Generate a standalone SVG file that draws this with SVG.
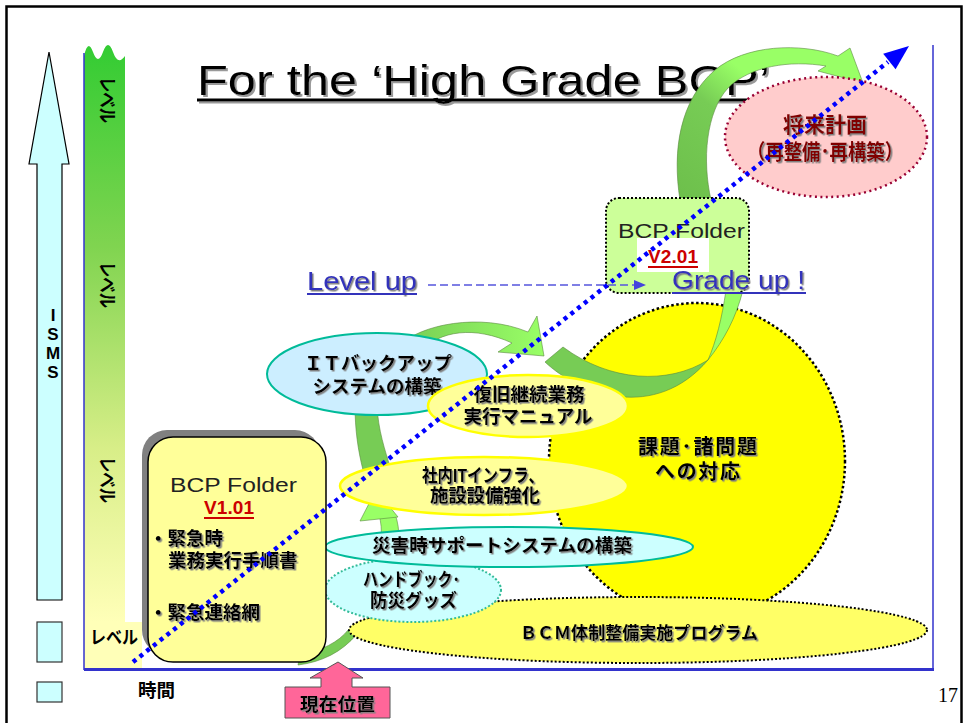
<svg xmlns="http://www.w3.org/2000/svg" width="963" height="723" viewBox="0 0 963 723">
<defs>
<linearGradient id="barG" x1="0" y1="0" x2="0" y2="1">
<stop offset="0" stop-color="#33CC33"/>
<stop offset="0.35" stop-color="#80D450"/>
<stop offset="0.7" stop-color="#D8EE88"/>
<stop offset="1" stop-color="#FFFFB8"/>
</linearGradient>
<linearGradient id="arrG" x1="0" y1="1" x2="1" y2="0">
<stop offset="0" stop-color="#6DBF4B"/>
<stop offset="0.4" stop-color="#77CC55"/>
<stop offset="0.6" stop-color="#99FF66"/>
</linearGradient>
<linearGradient id="arrH" x1="0" y1="0" x2="1" y2="0">
<stop offset="0" stop-color="#77CC55"/>
<stop offset="1" stop-color="#99FF66"/>
</linearGradient>
<filter id="sh" x="-10%" y="-20%" width="120%" height="150%">
<feDropShadow dx="1.5" dy="1.5" stdDeviation="0.3" flood-color="#808080"/>
</filter>
<filter id="tsh" x="-5%" y="-20%" width="110%" height="150%">
<feDropShadow dx="2" dy="2" stdDeviation="0.4" flood-color="#999"/>
</filter>
</defs>
<style>
.jp{font-family:"Liberation Sans","Noto Sans CJK JP",sans-serif;font-weight:bold;fill:#000;filter:url(#sh)}
.jpn{font-family:"Liberation Sans","Noto Sans CJK JP",sans-serif;font-weight:bold;fill:#000}
.ga{stroke:#5a8a40;stroke-width:0.6}
.dk{fill:#77CC55}
.lt{fill:#99FF66}
.axis{stroke:#3333CC;fill:none}
.yel{fill:#FFFF99;stroke:#FFFF00;stroke-width:2.5}
.tl{fill:#CCFFFF;stroke:#00BB99;stroke-width:2}
.fold{font-family:"Liberation Sans","DejaVu Sans",sans-serif;font-size:20px;fill:#222}
.ver{font-family:"Liberation Sans",sans-serif;font-size:19px;font-weight:bold;fill:#CC0000}
.lnk{font-family:"Liberation Sans",sans-serif;font-size:25px;fill:#3333BB;filter:url(#sh)}
</style>

<rect width="963" height="723" fill="#fff"/>
<rect x="6.5" y="6.5" width="955" height="760" fill="none" stroke="#000" stroke-width="2.5"/>

<g id="isms-arrow">
<path d="M49,52 L69,164 L62,164 L62,600 L37,600 L37,164 L29,164 Z" fill="#CCFFFF" stroke="#000" stroke-width="1.2"/>
<rect x="37" y="622" width="25" height="40" fill="#CCFFFF" stroke="#333" stroke-width="1.2"/>
<rect x="37" y="682" width="25" height="20" fill="#CCFFFF" stroke="#333" stroke-width="1.2"/>
<text class="jpn" font-size="17" x="53" y="306" style="writing-mode:vertical-rl;text-orientation:upright">ISMS</text>
</g>

<g id="level-bar">
<path d="M84,56 Q88,38 93,52 Q98,66 103,52 Q108,38 113,52 Q118,66 125,56 L125,622 L84,622 Z" fill="url(#barG)"/>
<rect x="84" y="622" width="58" height="46" fill="#FFFFB8"/>
<text class="jpn" font-size="19" transform="translate(100,77) rotate(90)" textLength="46" lengthAdjust="spacingAndGlyphs">レベル</text>
<text class="jpn" font-size="19" transform="translate(100,262) rotate(90)" textLength="46" lengthAdjust="spacingAndGlyphs">レベル</text>
<text class="jpn" font-size="19" transform="translate(100,457) rotate(90)" textLength="46" lengthAdjust="spacingAndGlyphs">レベル</text>
<text class="jpn" font-size="18" x="90" y="644" textLength="48" lengthAdjust="spacingAndGlyphs">レベル</text>
</g>

<g id="axes">
<line x1="84" y1="53" x2="84" y2="670" class="axis" stroke-width="1.5"/>
<line x1="84" y1="669.5" x2="934" y2="669.5" class="axis" stroke-width="3"/>
<line x1="933" y1="45" x2="933" y2="670" class="axis" stroke-width="1.5"/>
</g>

<g id="title" filter="url(#tsh)">
<text x="197" y="95" font-family="Liberation Sans,sans-serif" font-size="43" fill="#000" textLength="573" lengthAdjust="spacingAndGlyphs">For the ‘High Grade BCP’</text>
<line x1="197" y1="100" x2="772" y2="100" stroke="#000" stroke-width="3"/>
</g>

<g id="issues-circle">
<ellipse cx="697" cy="461" rx="148" ry="158" fill="#FFFF00" stroke="#000" stroke-width="2.5" stroke-dasharray="2.5 2.5"/>
<text class="jp" font-size="20" x="638" y="454" textLength="119">課題･諸問題</text>
<text class="jp" font-size="20" x="655" y="479" textLength="85">への対応</text>
</g>

<g id="connectors">
<path class="ga" fill="url(#arrG)" d="M680,200 C672,150 680,100 715,70 C745,45 800,42 838,56 L850,48 L863,83 L818,71 L826,66 C790,60 750,66 728,88 C706,112 702,160 711,200 Z"/>
<path class="ga dk" d="M298,665 C322,662 342,652 357,634 L349,629 C338,643 322,650 300,655 Z"/>
<path class="ga lt" d="M379,515 L395,514 C398,522 399,530 399,540 L381,540 C382,530 381,522 379,515 Z"/>
<path class="ga lt" d="M360,521 L376,490 L398,517 Z"/>
<path class="ga dk" d="M355,405 C355,430 358,450 363,470 L391,470 C385,450 378,430 377,405 Z"/>
<path class="ga" fill="url(#arrH)" d="M400,345 C420,325 480,312 528,332 L537,316 L544,356 L498,352 L512,343 C475,326 440,330 420,352 Z"/>
<path class="ga dk" d="M545,362 C580,395 655,422 708,360 C668,385 610,382 563,347 Z"/>
<path class="ga lt" d="M708,360 C724,340 736,318 743,290 L726,290 C722,318 716,342 708,360 Z"/>
</g>

<g id="bcm-program">
<ellipse cx="638" cy="630" rx="289" ry="33" fill="#FFFF66" stroke="#000" stroke-width="2" stroke-dasharray="2 2"/>
<text class="jp" font-size="17" x="520" y="639" textLength="238">ＢＣＭ体制整備実施プログラム</text>
</g>

<g id="handbook">
<ellipse cx="413" cy="590" rx="88" ry="32" fill="#CCFFFF" stroke="#33BB99" stroke-width="2" stroke-dasharray="2 2"/>
<text class="jp" font-size="18.5" x="363" y="586" textLength="97" lengthAdjust="spacingAndGlyphs">ハンドブック･</text>
<text class="jp" font-size="18.5" x="370" y="607" textLength="87" lengthAdjust="spacingAndGlyphs">防災グッズ</text>
</g>

<g id="disaster-support">
<ellipse class="tl" cx="509" cy="547" rx="184" ry="20"/>
<text class="jp" font-size="18.5" x="372" y="552" textLength="260">災害時サポートシステムの構築</text>
</g>

<g id="it-infra">
<ellipse class="yel" cx="484" cy="486" rx="144" ry="29"/>
<text class="jp" font-size="18.5" x="422" y="482" textLength="122" lengthAdjust="spacingAndGlyphs">社内ITインフラ、</text>
<text class="jp" font-size="18.5" x="430" y="502" textLength="110">施設設備強化</text>
</g>

<g id="it-backup">
<ellipse cx="377" cy="374" rx="110" ry="41" fill="#CCEEFF" stroke="#00BB99" stroke-width="2"/>
<text class="jp" font-size="18.5" x="378" y="370" text-anchor="middle">ＩＴバックアップ</text>
<text class="jp" font-size="18.5" x="377" y="393" text-anchor="middle">システムの構築</text>
</g>

<g id="recovery-manual">
<ellipse class="yel" cx="528" cy="406" rx="100" ry="31"/>
<text class="jp" font-size="18.5" x="529" y="401" text-anchor="middle">復旧継続業務</text>
<text class="jp" font-size="18.5" x="528" y="423" text-anchor="middle">実行マニュアル</text>
</g>

<g id="bcp-folder-v1">
<rect x="142" y="430" width="178" height="225" rx="25" fill="#808080"/>
<rect x="148" y="437" width="178" height="225" rx="25" fill="#FFFF99" stroke="#000" stroke-width="1.5"/>
<text class="fold" x="170" y="492" textLength="127" lengthAdjust="spacingAndGlyphs">BCP Folder</text>
<text class="ver" x="204" y="514" textLength="50">V1.01</text>
<line x1="204" y1="518" x2="254" y2="518" stroke="#CC0000" stroke-width="2"/>
<text class="jp" font-size="18.5" x="149" y="545">・緊急時</text>
<text class="jp" font-size="18.5" x="168" y="567">業務実行手順書</text>
<text class="jp" font-size="18.5" x="149" y="619">・緊急連絡網</text>
</g>

<g id="bcp-folder-v2">
<rect x="606" y="198" width="143" height="95" rx="13" fill="#CCFF99" stroke="#000" stroke-width="2" stroke-dasharray="2 2"/>
<rect x="637" y="238" width="72" height="34" fill="#fff"/>
<text class="fold" x="618" y="238" textLength="127" lengthAdjust="spacingAndGlyphs">BCP Folder</text>
<text class="ver" x="648" y="263" textLength="50">V2.01</text>
<line x1="648" y1="267" x2="698" y2="267" stroke="#CC0000" stroke-width="2"/>
</g>

<g id="future-plan">
<ellipse cx="826" cy="137" rx="101" ry="60" fill="#FFCCCC" stroke="#990033" stroke-width="2.5" stroke-dasharray="2 3.5"/>
<text class="jp" font-size="21" x="783" y="132" textLength="84" style="fill:#800000">将来計画</text>
<text class="jp" font-size="21" x="747" y="159" textLength="156" lengthAdjust="spacingAndGlyphs" style="fill:#800000">（再整備･再構築）</text>
</g>

<g id="level-grade">
<text class="lnk" x="307" y="290" textLength="110" lengthAdjust="spacingAndGlyphs">Level up</text>
<line x1="307" y1="294" x2="417" y2="294" stroke="#3333BB" stroke-width="2"/>
<line x1="428" y1="285" x2="636" y2="285" stroke="#5555DD" stroke-width="1.5" stroke-dasharray="8 4"/>
<polygon points="646,285 634,280 634,290" fill="#4444DD"/>
<text class="lnk" x="672" y="289" textLength="133" lengthAdjust="spacingAndGlyphs">Grade up !</text>
<line x1="672" y1="293" x2="806" y2="293" stroke="#3333BB" stroke-width="2"/>
</g>

<g id="trend-line">
<line x1="133" y1="662" x2="888" y2="62" stroke="#0000FF" stroke-width="4.5" stroke-dasharray="4 4.6"/>
<polygon points="909,46 895.6,69.3 883.2,53.7" fill="#0000FF"/>
</g>

<g id="current-position">
<path d="M338,662 L363,678 L352,678 L352,687 L390,687 L390,718 L285,718 L285,687 L321,687 L321,678 L310,678 Z" fill="#FF6699" stroke="#555" stroke-width="1"/>
<text class="jp" font-size="18.5" x="300" y="711" textLength="75">現在位置</text>
</g>

<g id="time-label">
<text class="jpn" font-size="18.5" x="138" y="697" textLength="37">時間</text>
</g>

<text x="938" y="702" font-family="Liberation Serif,serif" font-size="20" fill="#000">17</text>
</svg>
